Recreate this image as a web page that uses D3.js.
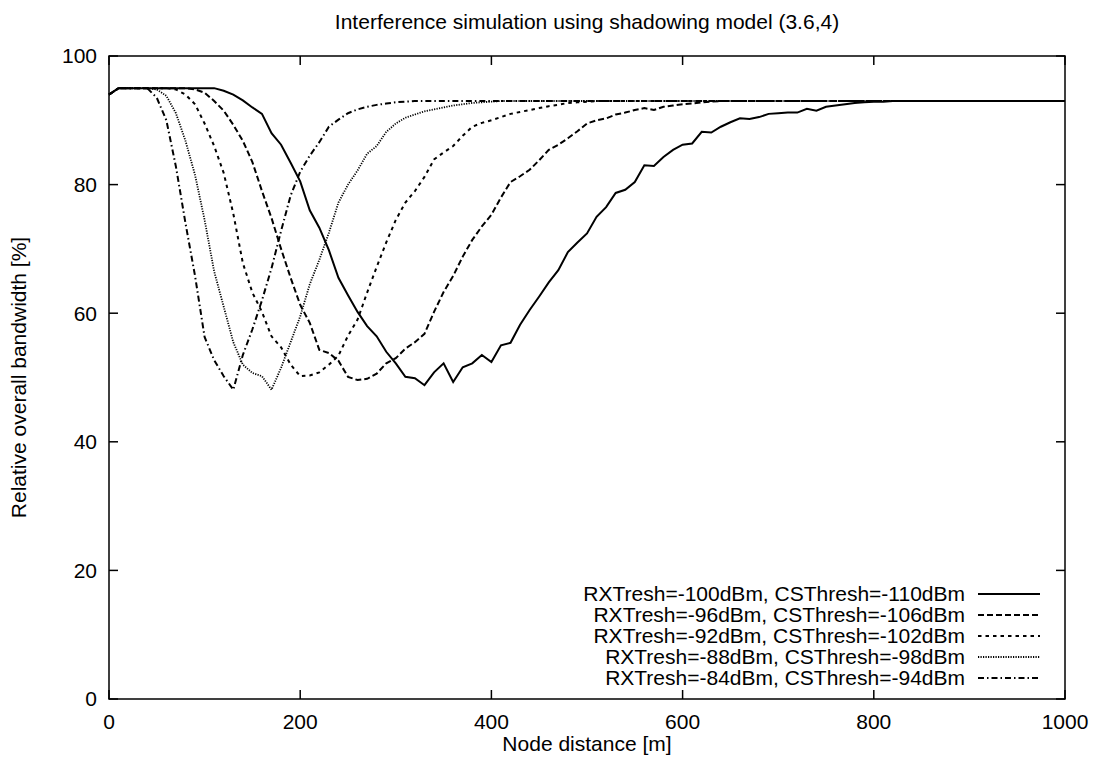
<!DOCTYPE html>
<html>
<head>
<meta charset="utf-8">
<script src="https://cdn.jsdelivr.net/npm/d3@7"></script>
<style>
  html, body { margin: 0; padding: 0; background: #fff; }
  svg text { font-family: "Liberation Sans", Arial, sans-serif; fill: #000; }
</style>
</head>
<body>
<div id="chart"></div>
<script>
// node distance [m], one sample every 10 m
const distance = [
  0, 10, 20, 30, 40, 50, 60, 70, 80, 90,
  100, 110, 120, 130, 140, 150, 160, 170, 180, 190,
  200, 210, 220, 230, 240, 250, 260, 270, 280, 290,
  300, 310, 320, 330, 340, 350, 360, 370, 380, 390,
  400, 410, 420, 430, 440, 450, 460, 470, 480, 490,
  500, 510, 520, 530, 540, 550, 560, 570, 580, 590,
  600, 610, 620, 630, 640, 650, 660, 670, 680, 690,
  700, 710, 720, 730, 740, 750, 760, 770, 780, 790,
  800, 810, 820, 830, 840, 850, 860, 870, 880, 890,
  900, 910, 920, 930, 940, 950, 960, 970, 980, 990,
  1000
];

const rx100 = [
  94, 95, 95, 95, 95, 95, 95, 95, 95, 95,
  95, 95, 94.6, 94, 93.1, 92, 91, 88, 86.2, 83.4,
  80.5, 76, 73.3, 69.8, 65.5, 62.8, 60.2, 58, 56.4, 54,
  52.2, 50.1, 49.9, 48.8, 50.8, 52.2, 49.3, 51.6, 52.2, 53.5,
  52.4, 55, 55.4, 58.2, 60.5, 62.6, 64.8, 66.7, 69.5, 71,
  72.4, 75, 76.5, 78.7, 79.2, 80.4, 83, 82.9, 84.3, 85.4,
  86.2, 86.4, 88.2, 88.1, 89, 89.7, 90.3, 90.2, 90.5, 91,
  91.1, 91.2, 91.2, 91.8, 91.5, 92.1, 92.3, 92.5, 92.7, 92.8,
  92.9, 92.9, 93, 93, 93, 93, 93, 93, 93, 93,
  93, 93, 93, 93, 93, 93, 93, 93, 93, 93,
  93
];

const rx96 = [
  94, 95, 95, 95, 95, 95, 95, 95, 95, 94.8,
  94.3, 93, 91.5, 89.3, 86.8, 83.5, 79, 74.8, 70, 65.5,
  61.3, 58.5, 54.3, 53.8, 52.6, 50.1, 49.6, 49.8, 50.6, 52.2,
  53, 54.5, 55.5, 56.8, 60.2, 63.3, 65.8, 68.8, 71.4, 73.5,
  75.3, 78, 80.4, 81.3, 82.3, 83.8, 85.4, 86.2, 87.2, 88.3,
  89.5, 90, 90.3, 90.9, 91.2, 91.6, 91.9, 91.6, 92.1, 92.3,
  92.5, 92.6, 92.8, 92.9, 93, 93, 93, 93, 93, 93,
  93, 93, 93, 93, 93, 93, 93, 93, 93, 93,
  93, 93, 93, 93, 93, 93, 93, 93, 93, 93,
  93, 93, 93, 93, 93, 93, 93, 93, 93, 93,
  93
];

const rx92 = [
  94, 95, 95, 95, 95, 95, 95, 94.8, 94, 92.5,
  89.5, 86, 81.8, 75.5, 67.8, 63.2, 60.2, 56.4, 54.7, 52,
  50.2, 50.3, 50.8, 52, 53.4, 56.5, 59, 63.2, 67.2, 71,
  74.5, 77.2, 79, 81.2, 83.9, 85, 86, 87.6, 89, 89.6,
  90, 90.5, 91, 91.3, 91.6, 91.9, 92.2, 92.4, 92.7, 92.8,
  92.9, 93, 93, 93, 93, 93, 93, 93, 93, 93,
  93, 93, 93, 93, 93, 93, 93, 93, 93, 93,
  93, 93, 93, 93, 93, 93, 93, 93, 93, 93,
  93, 93, 93, 93, 93, 93, 93, 93, 93, 93,
  93, 93, 93, 93, 93, 93, 93, 93, 93, 93,
  93
];

const rx88 = [
  94, 95, 95, 95, 95, 94.8, 93.8, 91.1, 86.8, 81.5,
  74.5, 66.5, 61, 55.5, 52, 50.7, 50.2, 48.1, 51.5, 55.5,
  59.5, 64.5, 68.3, 72.5, 77.2, 80, 82.2, 84.8, 86, 88.2,
  89.5, 90.4, 90.9, 91.4, 91.7, 92, 92.3, 92.5, 92.7, 92.8,
  92.9, 93, 93, 93, 93, 93, 93, 93, 93, 93,
  93, 93, 93, 93, 93, 93, 93, 93, 93, 93,
  93, 93, 93, 93, 93, 93, 93, 93, 93, 93,
  93, 93, 93, 93, 93, 93, 93, 93, 93, 93,
  93, 93, 93, 93, 93, 93, 93, 93, 93, 93,
  93, 93, 93, 93, 93, 93, 93, 93, 93, 93,
  93
];

const rx84 = [
  94, 95, 95, 95, 95, 93.5, 90, 82.8, 74, 65.8,
  56.3, 52.7, 50.2, 48.1, 53.5, 57.5, 62, 67, 72.8, 78.3,
  82, 84.5, 86.6, 89, 90.1, 91.1, 91.7, 92.1, 92.4, 92.6,
  92.8, 92.9, 93, 93, 93, 93, 93, 93, 93, 93,
  93, 93, 93, 93, 93, 93, 93, 93, 93, 93,
  93, 93, 93, 93, 93, 93, 93, 93, 93, 93,
  93, 93, 93, 93, 93, 93, 93, 93, 93, 93,
  93, 93, 93, 93, 93, 93, 93, 93, 93, 93,
  93, 93, 93, 93, 93, 93, 93, 93, 93, 93,
  93, 93, 93, 93, 93, 93, 93, 93, 93, 93,
  93
];

const seriesLabels = [
  'RXTresh=-100dBm, CSThresh=-110dBm',
  'RXTresh=-96dBm, CSThresh=-106dBm',
  'RXTresh=-92dBm, CSThresh=-102dBm',
  'RXTresh=-88dBm, CSThresh=-98dBm',
  'RXTresh=-84dBm, CSThresh=-94dBm'
];
const seriesValues = [rx100, rx96, rx92, rx88, rx84];

const xTicks = [0, 200, 400, 600, 800, 1000];
const yTicks = [0, 20, 40, 60, 80, 100];

// gnuplot-ish line types
const dashes = [null, '6,3', '3.5,4', '1.2,1.3', '6,3,1.5,3'];
const widths = [2, 2, 2, 1.8, 2];

const width = 1095, height = 763;
const margin = { top: 56, right: 30, bottom: 64, left: 109 };
const fontSize = 21;

const svg = d3.select('#chart').append('svg')
  .attr('width', width)
  .attr('height', height);

const x = d3.scaleLinear().domain([0, 1000]).range([margin.left, width - margin.right]);
const y = d3.scaleLinear().domain([0, 100]).range([height - margin.bottom, margin.top]);

const [x0, x1] = x.range(), [y0, y1] = y.range();

/* ---------- ticks (mirrored on all four sides, pointing inward) ---------- */
const tickLen = 9;
const ticks = svg.append('g').attr('stroke', '#000').attr('stroke-width', 1.5);

xTicks.forEach(t => {
  ticks.append('line').attr('x1', x(t)).attr('x2', x(t)).attr('y1', y0).attr('y2', y0 - tickLen);
  ticks.append('line').attr('x1', x(t)).attr('x2', x(t)).attr('y1', y1).attr('y2', y1 + tickLen);
});
yTicks.forEach(t => {
  ticks.append('line').attr('x1', x0).attr('x2', x0 + tickLen).attr('y1', y(t)).attr('y2', y(t));
  ticks.append('line').attr('x1', x1).attr('x2', x1 - tickLen).attr('y1', y(t)).attr('y2', y(t));
});

svg.selectAll('text.xtick').data(xTicks).enter().append('text')
  .attr('class', 'xtick')
  .attr('x', d => x(d))
  .attr('y', y0 + 30)
  .attr('text-anchor', 'middle')
  .style('font-size', fontSize + 'px')
  .text(d => d);

svg.selectAll('text.ytick').data(yTicks).enter().append('text')
  .attr('class', 'ytick')
  .attr('x', x0 - 12)
  .attr('y', d => y(d))
  .attr('dy', '0.35em')
  .attr('text-anchor', 'end')
  .style('font-size', fontSize + 'px')
  .text(d => d);

/* ---------- curves ---------- */
const line = d3.line()
  .x((d, i) => x(distance[i]))
  .y(d => y(d));

const plot = svg.append('g');
seriesValues.forEach((vals, k) => {
  plot.append('path')
    .datum(vals)
    .attr('d', line)
    .attr('fill', 'none')
    .attr('stroke', '#000')
    .attr('stroke-width', widths[k])
    .attr('stroke-linejoin', 'miter')
    .attr('stroke-dasharray', dashes[k]);
});

// frame
svg.append('rect')
  .attr('x', x0).attr('y', y1)
  .attr('width', x1 - x0).attr('height', y0 - y1)
  .attr('fill', 'none')
  .attr('stroke', '#000')
  .attr('stroke-width', 1.5);

/* ---------- legend ---------- */
const legendTextX = 965, legendLine = [978, 1040];
const legendY = d3.scaleLinear().domain([0, 4]).range([594, 678]);

const legend = svg.append('g');
seriesLabels.forEach((lab, k) => {
  legend.append('text')
    .attr('x', legendTextX)
    .attr('y', legendY(k))
    .attr('dy', '0.35em')
    .attr('text-anchor', 'end')
    .style('font-size', fontSize + 'px')
    .text(lab);
  legend.append('line')
    .attr('x1', legendLine[0]).attr('x2', legendLine[1])
    .attr('y1', legendY(k)).attr('y2', legendY(k))
    .attr('stroke', '#000')
    .attr('stroke-width', widths[k])
    .attr('stroke-dasharray', dashes[k]);
});

/* ---------- titles ---------- */
svg.append('text')
  .attr('x', (x0 + x1) / 2)
  .attr('y', 29)
  .attr('text-anchor', 'middle')
  .style('font-size', fontSize + 'px')
  .text('Interference simulation using shadowing model (3.6,4)');

svg.append('text')
  .attr('x', (x0 + x1) / 2)
  .attr('y', 751)
  .attr('text-anchor', 'middle')
  .style('font-size', fontSize + 'px')
  .text('Node distance [m]');

svg.append('text')
  .attr('transform', `translate(26, ${(y0 + y1) / 2}) rotate(-90)`)
  .attr('text-anchor', 'middle')
  .style('font-size', fontSize + 'px')
  .text('Relative overall bandwidth [%]');
</script>
</body>
</html>
